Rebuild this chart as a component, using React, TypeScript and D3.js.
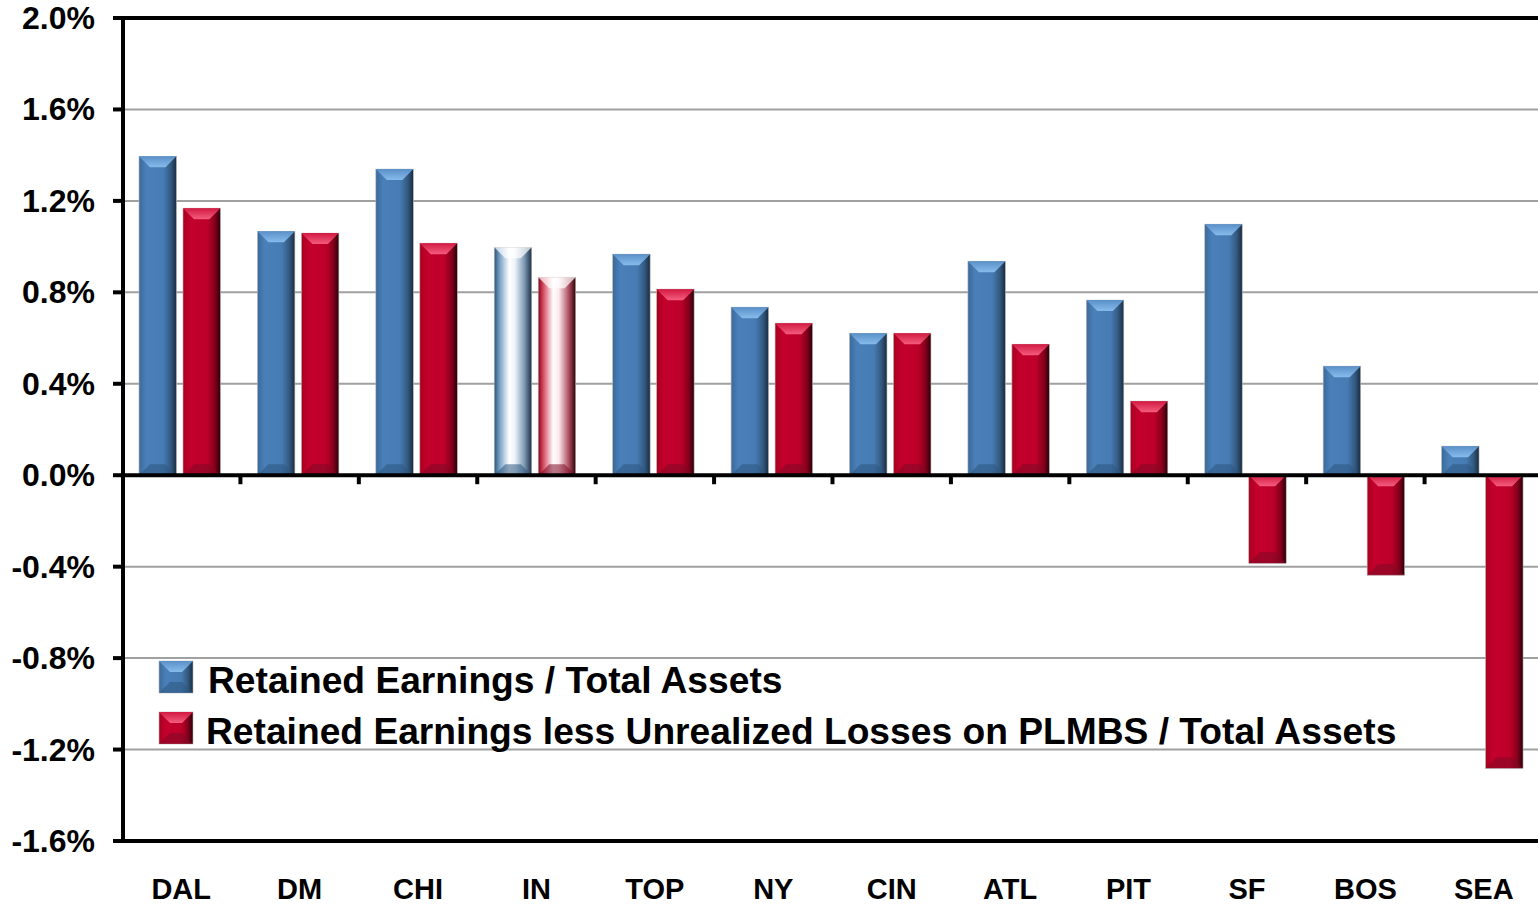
import React from 'react';
import * as d3 from 'd3';

const categories = ['DAL', 'DM', 'CHI', 'IN', 'TOP', 'NY', 'CIN', 'ATL', 'PIT', 'SF', 'BOS', 'SEA'];
const retainedEarnings = [1.395, 1.067, 1.339, 0.997, 0.967, 0.735, 0.621, 0.936, 0.766, 1.098, 0.477, 0.127];
const retainedLessPlmbs = [1.168, 1.059, 1.015, 0.866, 0.814, 0.665, 0.621, 0.573, 0.324, -0.385, -0.437, -1.282];
const yTicks = [2.0, 1.6, 1.2, 0.8, 0.4, 0.0, -0.4, -0.8, -1.2, -1.6];
const seriesNames = [
    'Retained Earnings / Total Assets',
    'Retained Earnings less Unrealized Losses on PLMBS / Total Assets',
];
const highlight = 'IN';

const width = 1538;
const height = 904;
const margin = { left: 122, right: -5, top: 18, bottom: 63 };
const font = '"Liberation Sans", Arial, sans-serif';

const palette = [
    { base: 'blue', bottom: '#2c557f' },
    { base: 'red', bottom: '#7d0a24' },
];

function Bar({ x, y, w, h, s, glossy }) {
    const p = palette[s];
    const b = Math.min(11, h / 2, w / 2);
    const fill = glossy ? `url(#gloss-${p.base})` : `url(#side-${p.base})`;
    return (
        <g>
            <rect x={x} y={y} width={w} height={h} fill={fill} stroke="#b8b8b8" strokeWidth={0.6} />
            <polygon
                points={`${x},${y} ${x + w},${y} ${x + w - b},${y + b} ${x + b},${y + b}`}
                fill={glossy ? '#ffffff' : `url(#top-${p.base})`}
                opacity={glossy ? 0.7 : 1}
            />
            <polygon
                points={`${x},${y + h} ${x + w},${y + h} ${x + w - b},${y + h - b} ${x + b},${y + h - b}`}
                fill={p.bottom}
                opacity={0.55}
            />
        </g>
    );
}

export default function App() {
    const x = d3.scaleBand(categories, [margin.left, width - margin.right]);
    const xSub = d3
        .scaleBand([0, 1], [0, x.bandwidth()])
        .paddingInner(0.148)
        .paddingOuter(0.42)
        .align(0.46);
    const y = d3.scaleLinear([-1.6, 2.0], [height - margin.bottom, margin.top]);
    const series = [retainedEarnings, retainedLessPlmbs];
    const bw = xSub.bandwidth();

    return (
        <svg
            width={width}
            height={height}
            style={{ position: 'absolute', left: 0, top: 0, background: '#fff' }}
            fontFamily={font}
        >
            <defs>
                <linearGradient id="side-blue" x1="0" x2="1" y1="0" y2="0">
                    <stop offset="0" stopColor="#3b6a9a" />
                    <stop offset="0.2" stopColor="#4a80b9" />
                    <stop offset="0.65" stopColor="#467bb3" />
                    <stop offset="0.85" stopColor="#33597f" />
                    <stop offset="1" stopColor="#182c42" />
                </linearGradient>
                <linearGradient id="side-red" x1="0" x2="1" y1="0" y2="0">
                    <stop offset="0" stopColor="#a8001f" />
                    <stop offset="0.2" stopColor="#c3002c" />
                    <stop offset="0.65" stopColor="#bd0029" />
                    <stop offset="0.85" stopColor="#85001b" />
                    <stop offset="1" stopColor="#2a0008" />
                </linearGradient>
                <linearGradient id="top-blue" x1="0" x2="0" y1="0" y2="1">
                    <stop offset="0" stopColor="#5a90c8" />
                    <stop offset="1" stopColor="#86bbec" />
                </linearGradient>
                <linearGradient id="top-red" x1="0" x2="0" y1="0" y2="1">
                    <stop offset="0" stopColor="#d21a42" />
                    <stop offset="1" stopColor="#f45c7e" />
                </linearGradient>
                <linearGradient id="gloss-blue" x1="0" x2="1" y1="0" y2="0">
                    <stop offset="0" stopColor="#2c5378" />
                    <stop offset="0.15" stopColor="#7aa3c8" />
                    <stop offset="0.4" stopColor="#ffffff" />
                    <stop offset="0.55" stopColor="#eef4fa" />
                    <stop offset="0.8" stopColor="#7e9bb6" />
                    <stop offset="1" stopColor="#1b2e42" />
                </linearGradient>
                <linearGradient id="gloss-red" x1="0" x2="1" y1="0" y2="0">
                    <stop offset="0" stopColor="#8c0014" />
                    <stop offset="0.15" stopColor="#d9566a" />
                    <stop offset="0.4" stopColor="#ffffff" />
                    <stop offset="0.55" stopColor="#fbe9ec" />
                    <stop offset="0.8" stopColor="#b3566a" />
                    <stop offset="1" stopColor="#330008" />
                </linearGradient>
            </defs>

            {/* gridlines */}
            <g stroke="#a0a0a0" strokeWidth={2}>
                {yTicks.filter((t) => t !== 0 && t !== 2.0 && t !== -1.6).map((t) => (
                    <line key={t} x1={margin.left} x2={width} y1={y(t)} y2={y(t)} />
                ))}
            </g>

            {/* bars */}
            {categories.map((c, i) => (
                <g key={c}>
                    {series.map((vals, s) => {
                        const v = vals[i];
                        const top = y(Math.max(0, v));
                        const h = Math.abs(y(v) - y(0));
                        return (
                            <Bar
                                key={s}
                                x={x(c) + xSub(s)}
                                y={top}
                                w={bw}
                                h={h}
                                s={s}
                                glossy={c === highlight}
                            />
                        );
                    })}
                </g>
            ))}

            {/* frame */}
            <g stroke="#000" strokeWidth={4}>
                <line x1={113} x2={width} y1={y(2.0)} y2={y(2.0)} />
                <line x1={113} x2={width} y1={y(-1.6)} y2={y(-1.6)} />
                <line x1={margin.left} x2={width} y1={y(0)} y2={y(0)} />
                <line x1={margin.left + 1} x2={margin.left + 1} y1={y(2.0)} y2={y(-1.6)} />
                {yTicks.map((t) => (
                    <line key={t} x1={113} x2={margin.left} y1={y(t)} y2={y(t)} />
                ))}
                {categories.slice(1).map((c) => (
                    <line key={c} x1={x(c)} x2={x(c)} y1={y(0)} y2={y(0) + 9} />
                ))}
            </g>

            {/* y labels */}
            <g fontSize={32} fontWeight="bold" textAnchor="end">
                {yTicks.map((t) => (
                    <text key={t} x={95} y={y(t) + 11}>
                        {t.toFixed(1)}%
                    </text>
                ))}
            </g>

            {/* x labels */}
            <g fontSize={29} fontWeight="bold" textAnchor="middle">
                {categories.map((c) => (
                    <text key={c} x={x(c) + x.bandwidth() / 2} y={899}>
                        {c}
                    </text>
                ))}
            </g>

            {/* legend */}
            <g>
                {seriesNames.map((name, s) => (
                    <g key={name} transform={`translate(159, ${661 + s * 51})`}>
                        <Bar x={0} y={0} w={34} h={32} s={s} glossy={false} />
                        <text x={49 - s * 2} y={32} fontSize={37.2} fontWeight="bold">
                            {name}
                        </text>
                    </g>
                ))}
            </g>
        </svg>
    );
}
